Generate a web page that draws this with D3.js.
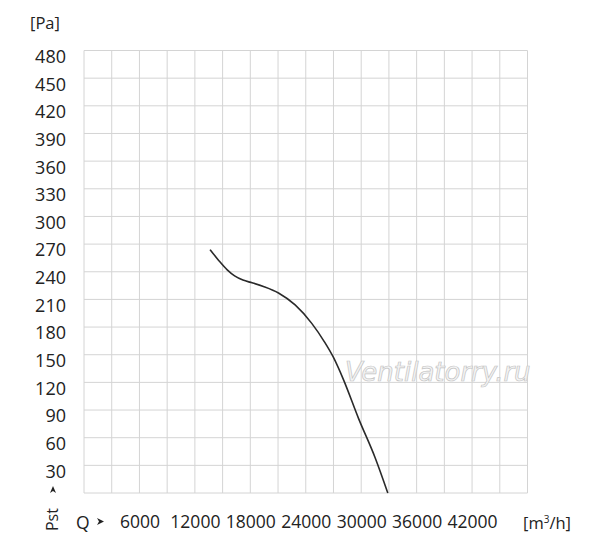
<!DOCTYPE html>
<html>
<head>
<meta charset="utf-8">
<script src="https://cdn.jsdelivr.net/npm/d3@7"></script>
<style>
  body { margin: 0; background: #fff; }
  text { font-family: "Open Sans", sans-serif; fill: #222; }
</style>
</head>
<body>
<div id="chart"></div>
<script>
// fan curve
const flowQ    = [13650, 14600, 15500, 16300, 17200, 18200, 19420, 21050, 22850, 24650, 26020, 27000, 28080, 29710, 31520, 32880];
const pressure = [264,   252,   242,   235.5, 231,   228,   224,   217,   204,   184,   164,   147,   123,   81,    38,    0];

const xTickLabels = [6000, 12000, 18000, 24000, 30000, 36000, 42000];
const yTickLabels = [30, 60, 90, 120, 150, 180, 210, 240, 270, 300, 330, 360, 390, 420, 450, 480];
const xGrid = d3.range(0, 48001, 3000);
const yGrid = d3.range(0, 481, 30);

const W = 600, H = 544;
const plot = {left: 84, right: 527.5, top: 50.5, bottom: 493};

const svg = d3.select("#chart")
  .append("svg")
    .attr("width", W)
    .attr("height", H);

const x = d3.scaleLinear().domain([0, 48000]).range([plot.left, plot.right]);
const y = d3.scaleLinear().domain([0, 480]).range([plot.bottom, plot.top]);

// grid
svg.append("g")
  .selectAll("line")
  .data(xGrid)
  .join("line")
    .attr("x1", d => x(d)).attr("x2", d => x(d))
    .attr("y1", y(0)).attr("y2", y(480))
    .attr("stroke", "#d4d4d4").attr("stroke-width", 1);
svg.append("g")
  .selectAll("line")
  .data(yGrid)
  .join("line")
    .attr("x1", x(0)).attr("x2", x(48000))
    .attr("y1", d => y(d)).attr("y2", d => y(d))
    .attr("stroke", "#d4d4d4").attr("stroke-width", 1);

// Y axis labels
const yAxis = svg.append("g")
  .attr("transform", `translate(${plot.left - 18},0)`)
  .call(d3.axisLeft(y).tickValues(yTickLabels).tickSize(0).tickPadding(0));
yAxis.select(".domain").remove();
yAxis.selectAll("text")
  .attr("font-family", "Open Sans, sans-serif")
  .attr("font-size", "18px")
  .attr("fill", "#222")
  .attr("dy", "0.66em");

// X axis labels
const xAxis = svg.append("g")
  .attr("transform", `translate(0,${plot.bottom + 22})`)
  .call(d3.axisBottom(x).tickValues(xTickLabels).tickSize(0).tickPadding(0).tickFormat(d3.format("d")));
xAxis.select(".domain").remove();
xAxis.selectAll("text")
  .attr("font-family", "Open Sans, sans-serif")
  .attr("font-size", "17.5px")
  .attr("fill", "#222")
  .attr("dy", "0.75em");

// unit labels
svg.append("text").attr("x", 30).attr("y", 29).text("[Pa]").style("font-size", "16.5px");
const unit = svg.append("text").attr("x", 523).attr("y", 529).style("font-size", "16.5px");
unit.append("tspan").text("[m");
unit.append("tspan").text("3").attr("dy", -6).style("font-size", "10px");
unit.append("tspan").text("/h]").attr("dy", 6);

svg.append("text").attr("x", 76).attr("y", 529).text("Q").style("font-size", "17.5px");
svg.append("path").attr("d", "M97,518 L104,521.5 L97,525 L99,521.5 Z").attr("fill", "#222");

svg.append("text")
  .attr("transform", "translate(58,531) rotate(-90)")
  .text("Pst").style("font-size", "16px");
svg.append("path").attr("d", "M50,493 L53,486 L56,493 L53,491 Z").attr("fill", "#222");

// watermark
svg.append("text")
  .attr("x", 345).attr("y", 381)
  .text("Ventilatorry.ru")
  .style("font-family", "DejaVu Sans, sans-serif")
  .style("font-style", "italic")
  .style("font-size", "26px")
  .style("fill", "#f4f4f4")
  .style("stroke", "#c4c4c4")
  .style("stroke-width", "0.7");

// curve
const pts = flowQ.map((q, i) => [q, pressure[i]]);
svg.append("path")
  .datum(pts)
  .attr("fill", "none")
  .attr("stroke", "#2a2a2a")
  .attr("stroke-width", 1.6)
  .attr("d", d3.line()
    .x(d => x(d[0]))
    .y(d => y(d[1]))
    .curve(d3.curveMonotoneX));
</script>
</body>
</html>
